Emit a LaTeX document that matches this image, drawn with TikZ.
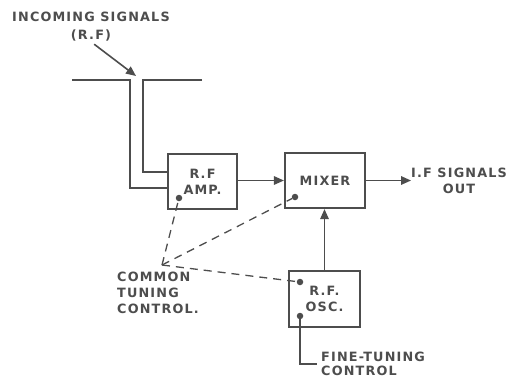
\documentclass[tikz,border=0pt]{standalone}
\usepackage{fontspec}
\setmainfont[LetterSpace=9]{DejaVu Sans}
\usetikzlibrary{positioning,arrows.meta}
\definecolor{cInk}{HTML}{4D4D4D}
\newcommand{\lbl}{\fontsize{12.8}{16}\selectfont\bfseries}
\tikzset{
  blk/.style={draw=cInk,line width=2.2pt,inner sep=0pt,font=\lbl,text=cInk,align=center},
  txt/.style={font=\lbl,text=cInk,inner sep=0pt},
  wire/.style={cInk,line width=1.8pt},
  sig/.style={-{Triangle[length=10pt,width=8.5pt]},line width=1.6pt,cInk},
  tune/.style={cInk,line width=1.3pt,dash pattern=on 8pt off 6pt},
  dot/.style={circle,fill=cInk,inner sep=0pt,minimum size=6.5pt},
}

\begin{document}
\begin{tikzpicture}[x=1pt,y=-1pt]
  \useasboundingbox (0,0) rectangle (518,381);
  % blocks
  \node[blk,minimum width=69pt,minimum height=55pt] (amp) at (202.5,181.5) {R.F\\AMP.};
  \node[blk,minimum width=80pt,minimum height=55pt] (mix) at (325,180.5) {MIXER};
  \node[blk,minimum width=71pt,minimum height=56pt] (osc) at (324.5,299) {R.F.\\OSC.};
  \node[dot] (ampdot) at (179,198) {};
  \node[dot] (mixdot) at (295,197) {};
  \node[dot] (oscdot) at (300,282) {};
  \node[dot] (finedot) at (300,316) {};
  % aerial feeder
  \coordinate (aL) at (72,80);
  \coordinate (aR) at (202,80);
  \coordinate (outer) at (130,188);
  \coordinate (inner) at (143,172);
  \coordinate (ant) at (136,76);
  \draw[wire] (aL) -| (outer) -- (outer -| amp.west);
  \draw[wire] (aR) -| (inner) -- (inner -| amp.west);
  \node[txt,align=center] (insig) at (91,27) {INCOMING SIGNALS\\[2pt](R.F)};
  \draw[sig,shorten <=4pt] (insig.south) -- (ant);
  % signal path
  \draw[sig] (amp.east |- mix.west) -- (mix.west);
  \node[txt,align=center,anchor=west] (ifout) at (411,181) {I.F SIGNALS\\OUT};
  \draw[sig] (mix.east) -- (mix.east -| ifout.west);
  \draw[sig] (osc.north) -- (osc.north |- mix.south);
  % tuning
  \coordinate (gang) at (162,265);
  \foreach \d in {ampdot,mixdot,oscdot} \draw[tune] (gang) -- (\d);
  \node[txt,align=left,anchor=north west] (ctc) at (117,272) {COMMON\\TUNING\\CONTROL.};
  \node[txt,align=left,anchor=west] (ftc) at (321,364) {FINE-TUNING\\[-2pt]CONTROL};
  \draw[wire] (finedot) |- ([xshift=-4pt]ftc.west);
\end{tikzpicture}
\end{document}
